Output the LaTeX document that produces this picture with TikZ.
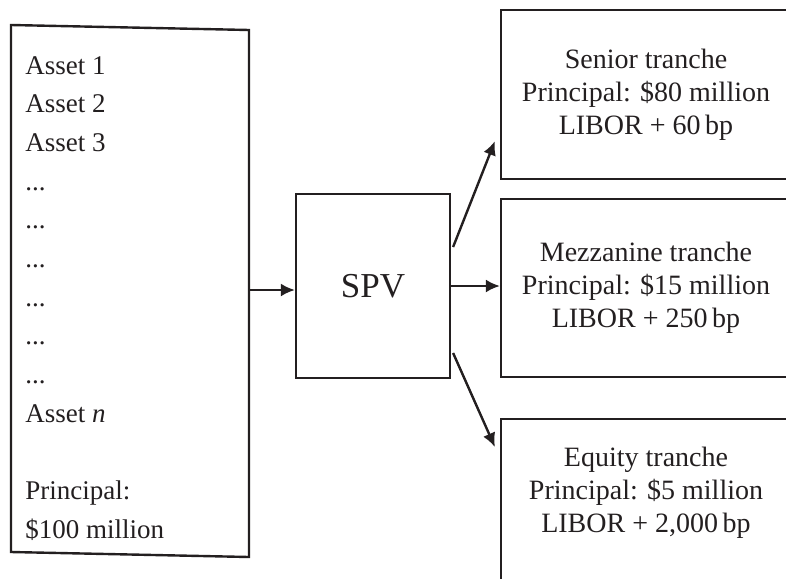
\documentclass[tikz,border=0pt]{standalone}
\usepackage{fontspec}
\setmainfont{Liberation Serif}
\usetikzlibrary{arrows.meta,calc}
\definecolor{ink}{RGB}{35,31,32}
\tikzset{
	box/.style={draw=ink, line width=1.1pt, rectangle, inner sep=0pt},
	tranche/.style={box, minimum width=145pt, align=center, text=ink, font=\fontsize{14}{16.5}\selectfont},
	tranchetext/.style={align=center, inner sep=0pt, text=ink, font=\fontsize{14}{16.5}\selectfont},
	poolline/.style={anchor=base west, inner sep=0pt, text=ink, font=\fontsize{13.5}{16}\selectfont},
	flow/.style={draw=ink, line width=1.2pt, -{Latex[length=7pt,width=6.5pt]}}
}

\begin{document}
\begin{tikzpicture}[x=0.5pt,y=-0.5pt]
	\useasboundingbox (0,0) rectangle (786,578);
	\pgfmathsetmacro{\lead}{38.7}
	% asset pool (slightly skewed box)
	\coordinate (ptl) at (11,25);
	\coordinate (ptr) at (249,30);
	\coordinate (pbr) at (249,557);
	\coordinate (pbl) at (11,552);
	\draw[ink, line width=1.2pt] (ptl) -- (ptr) -- (pbr) -- (pbl) -- cycle;
	\node[poolline] (a1) at (25,74) {Asset 1};
	\node[poolline] (a2) at (25,{74+\lead}) {Asset 2};
	\node[poolline] (a3) at (25,{74+2*\lead}) {Asset 3};
	\foreach \i in {4,...,9}
		\node[poolline] (a\i) at (25,{74+(\i-1)*\lead}) {...};
	\node[poolline] (an) at (25,{74+9*\lead}) {Asset \emph{n}};
	\node[poolline] (pr) at (25,{74+11*\lead}) {Principal:};
	\node[poolline] (pv) at (25,{74+12*\lead}) {\$100 million};
	% SPV
	\node[box, minimum width=77pt, minimum height=92pt, text=ink, font=\fontsize{17.5}{20}\selectfont] (spv) at (373,286) {SPV};
	% tranches
	\node[tranche, minimum height=84.5pt] (senior) at (646,94.5) {Senior tranche\\Principal: \$80 million\\LIBOR + 60\,bp};
	\node[tranche, minimum height=89pt] (mezz) at (646,288) {Mezzanine tranche\\Principal: \$15 million\\LIBOR + 250\,bp};
	\node[box, minimum width=145pt, minimum height=100pt, anchor=north] (equity) at (646,418) {};
	\node[tranchetext] (eqtext) at (646,493) {Equity tranche\\Principal: \$5 million\\LIBOR + 2,000\,bp};
	% arrows
	\coordinate (poolout) at (249,290);
	\draw[flow] (poolout) -- (spv.west |- poolout);
	\draw[flow] ($(spv.east)+(2,-39)$) -- ($(senior.south west)+(-5,-39)$);
	\draw[flow] (spv.east) -- (spv.east -| mezz.west);
	\draw[flow] ($(spv.east)+(2,67)$) -- ($(equity.north west)+(-5,29)$);
\end{tikzpicture}
\end{document}
